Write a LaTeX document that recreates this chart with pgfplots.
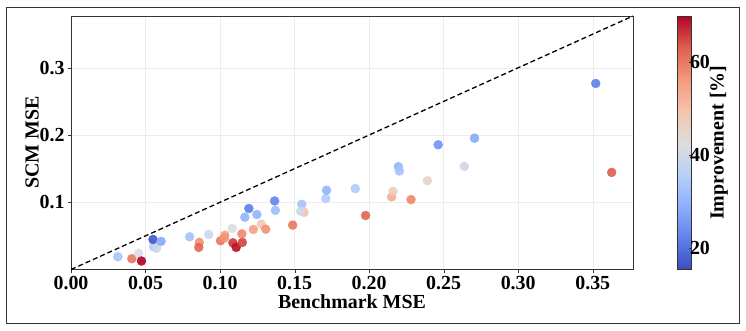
\documentclass[border=0pt]{standalone}
\usepackage{pgfplots}
\pgfplotsset{compat=1.18}
\usepackage{pgfplotstable}
\usepackage{fontspec}
\setmainfont{Liberation Serif}
\pgfplotstableread{
x y c
0.0314 0.0190 33
0.0408 0.0160 60
0.0453 0.0240 42
0.0473 0.0126 70
0.0554 0.0338 35
0.0574 0.0314 40
0.0550 0.0447 17
0.0604 0.0418 28
0.0796 0.0486 33
0.0861 0.0403 57
0.0857 0.0329 62
0.0924 0.0520 40
0.1003 0.0427 60
0.1032 0.0510 55
0.1030 0.0470 57
0.1081 0.0610 42
0.1086 0.0397 66
0.1108 0.0329 69
0.1149 0.0403 65
0.1146 0.0530 58
0.1166 0.0778 30
0.1193 0.0907 22
0.1247 0.0818 30
0.1223 0.0595 55
0.1277 0.0674 48
0.1306 0.0600 57
0.1366 0.1020 23
0.1371 0.0880 32
0.1487 0.0660 60
0.1548 0.0970 33
0.1563 0.0850 50
0.1540 0.0867 40
0.1709 0.1055 35
0.1714 0.1178 30
0.1907 0.1203 35
0.1976 0.0803 62
0.2151 0.1080 53
0.2160 0.1163 47
0.2196 0.1530 30
0.2203 0.1464 33
0.2281 0.1040 58
0.2391 0.1320 45
0.2463 0.1855 25
0.2638 0.1533 40
0.2707 0.1953 28
0.3520 0.2767 22
0.3627 0.1444 63
}\datatable
\begin{document}
\begin{tikzpicture}
\useasboundingbox (0,0) rectangle (746bp,331bp);
\draw[line width=0.8pt, black!80] (6bp,8bp) rectangle (739bp,324bp);
\begin{axis}[
  at={(71bp,61.5bp)}, anchor=south west,
  scale only axis, width=562bp, height=253.5bp,
  xmin=0, xmax=0.377, ymin=0, ymax=0.377,
  xtick={0,0.05,0.1,0.15,0.2,0.25,0.3,0.35},
  ytick={0.1,0.2,0.3},
  xtick pos=bottom, ytick pos=left,
  xticklabel style={/pgf/number format/.cd, fixed, fixed zerofill, precision=2},
  yticklabel style={/pgf/number format/.cd, fixed, fixed zerofill, precision=1},
  scaled ticks=false,
  /pgf/number format/assume math mode=true,
  tick label style={font=\bfseries\fontsize{20}{22}\selectfont},
  label style={font=\bfseries\fontsize{20}{22}\selectfont},
  xlabel={Benchmark MSE}, ylabel={SCM MSE},
  grid=major, grid style={gray!15, line width=0.5pt},
  axis line style={black!80, line width=0.8pt},
  tick style={black!80},
  tick align=outside, major tick length=3bp,
  xlabel style={yshift=2bp},
  ylabel style={yshift=-6bp},
  colormap={coolwarm}{rgb255=(59,76,192) rgb255=(97,130,234) rgb255=(141,176,254) rgb255=(184,208,249) rgb255=(221,221,221) rgb255=(245,196,173) rgb255=(244,154,123) rgb255=(222,96,77) rgb255=(180,4,38)},
  point meta min=15.3, point meta max=69.9,
  colorbar,
  colorbar style={
    at={(parent axis.north east)}, anchor=north west, xshift=36bp,
    width=14bp,
    ytick={20,40,60},
    ytick pos=right,
    yticklabel pos=right,
    /pgf/number format/assume math mode=true,
    tick label style={font=\bfseries\fontsize{20}{22}\selectfont},
    yticklabel style={xshift=-5bp},
    ylabel={Improvement [\%]},
    ylabel style={font=\bfseries\fontsize{20}{22}\selectfont, yshift=7bp},
    axis line style={black!80, line width=0.8pt},
    major tick length=3bp,
  },
]
\addplot[dash pattern=on 5bp off 3bp, black, line width=1.3pt, forget plot] coordinates {(0,0) (0.377,0.377)};
\addplot[scatter, only marks, mark=*, mark size=4.5pt, scatter src=explicit,
  scatter/use mapped color={draw=mapped color, fill=mapped color}, opacity=0.92]
  table[x=x, y=y, meta=c] {\datatable};
\end{axis}
\end{tikzpicture}
\end{document}
